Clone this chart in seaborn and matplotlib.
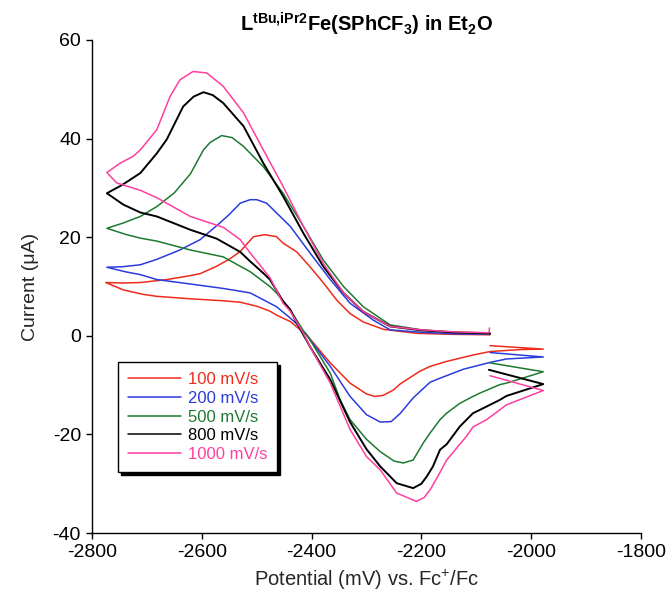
import numpy as np
import pandas as pd
import matplotlib
matplotlib.use("Agg")
import matplotlib.pyplot as plt
import seaborn as sns

# ---- data (scan order: start at -2075, sweep negative, back to -1975, back to -2075) ----
rates = ["100 mV/s", "200 mV/s", "500 mV/s", "800 mV/s", "1000 mV/s"]
colors = ["#ee2c1c", "#2a3cdc", "#1e7a30", "#000000", "#ff3fa0"]

e_100 = [-2075, -2148, -2209, -2269, -2306, -2330, -2354, -2379, -2403, -2427, -2452, -2464, -2485,
         -2506, -2530, -2549, -2573, -2603, -2621, -2664, -2712, -2745, -2775,
         -2743, -2707, -2682, -2621, -2561, -2530, -2500, -2476, -2464, -2439, -2427, -2409, -2391,
         -2366, -2330, -2300, -2285, -2270, -2251, -2239, -2221, -2203, -2184, -2154, -2106, -2075,
         -2020, -1978, -2075]
i_100 = [0.2, 0.3, 0.5, 1.3, 2.8, 4.5, 7.2, 10.8, 14.0, 17.0, 18.8, 20.1, 20.5,
         20.1, 17.1, 15.6, 14.1, 12.6, 12.2, 11.4, 10.8, 10.7, 10.8,
         9.3, 8.4, 8.0, 7.5, 7.1, 6.8, 6.0, 5.0, 4.2, 2.9, 1.8, 0.2, -2.2,
         -5.5, -9.6, -11.8, -12.3, -12.1, -11.0, -9.8, -8.5, -7.2, -6.2, -5.2, -3.9, -3.2,
         -2.8, -2.7, -2.0]

e_200 = [-2075, -2140, -2200, -2257, -2288, -2330, -2366, -2403, -2439, -2482, -2500, -2512, -2530,
         -2550, -2567, -2603, -2640, -2682, -2712, -2745, -2773,
         -2740, -2712, -2682, -2621, -2561, -2512, -2476, -2464, -2439, -2427, -2409, -2403, -2366,
         -2330, -2300, -2275, -2255, -2239, -2215, -2184, -2166, -2124, -2075, -2045, -1978, -2075]
i_200 = [0.3, 0.4, 0.7, 1.2, 3.2, 6.6, 11.4, 16.8, 22.2, 26.9, 27.6, 27.6, 26.9,
         24.6, 22.9, 19.5, 17.4, 15.5, 14.4, 14.0, 13.9,
         13.0, 12.4, 11.4, 10.5, 9.6, 8.7, 6.6, 5.9, 3.6, 2.4, 0.2, -0.8, -6.2,
         -12.3, -16.0, -17.5, -17.4, -15.8, -12.6, -9.4, -8.6, -6.8, -5.4, -4.7, -4.3, -3.4]

e_500 = [-2075, -2140, -2200, -2257, -2306, -2342, -2379, -2415, -2452, -2488, -2524, -2545, -2564,
         -2585, -2597, -2621, -2650, -2682, -2712, -2745, -2773,
         -2740, -2712, -2682, -2621, -2561, -2530, -2512, -2476, -2464, -2439, -2415, -2403, -2366,
         -2348, -2330, -2300, -2275, -2250, -2233, -2215, -2197, -2184, -2166, -2154, -2130, -2106,
         -2093, -2057, -2045, -1978, -2075]
i_500 = [0.4, 0.7, 1.2, 2.2, 5.9, 10.0, 15.4, 22.2, 28.9, 34.3, 38.4, 40.2, 40.6,
         39.2, 37.7, 32.8, 29.0, 26.2, 24.2, 22.8, 21.8,
         20.6, 19.8, 19.2, 17.4, 16.0, 14.1, 13.0, 10.0, 8.7, 5.3, 1.0, -0.8, -7.6,
         -13.0, -17.0, -21.0, -23.5, -25.4, -25.8, -25.2, -21.8, -19.7, -17.0, -15.7, -13.7, -12.3,
         -11.6, -9.9, -9.6, -7.3, -5.5]

e_800 = [-2075, -2140, -2200, -2257, -2306, -2342, -2379, -2415, -2452, -2488, -2524, -2561, -2580,
         -2597, -2615, -2634, -2664, -2682, -2712, -2745, -2773,
         -2743, -2712, -2682, -2621, -2573, -2530, -2512, -2488, -2476, -2452, -2439, -2427, -2415,
         -2403, -2366, -2330, -2300, -2275, -2245, -2215, -2200, -2190, -2179, -2166, -2154, -2130,
         -2106, -2093, -2057, -2045, -1978, -2077]
i_800 = [0.5, 0.7, 1.1, 1.9, 4.9, 8.7, 14.1, 20.8, 28.3, 35.0, 42.5, 47.2, 48.8,
         49.4, 48.5, 46.5, 39.8, 37.0, 33.0, 30.6, 28.9,
         26.6, 25.0, 24.2, 21.5, 19.7, 17.0, 15.1, 12.7, 11.4, 7.0, 5.3, 2.6, 0.2,
         -2.2, -8.9, -17.5, -23.0, -26.5, -29.9, -30.9, -30.0, -28.5, -26.5, -23.1, -22.0, -18.4,
         -15.7, -15.0, -13.0, -12.2, -9.8, -6.9]

e_1000 = [-2076, -2077, -2140, -2200, -2257, -2306, -2342, -2379, -2415, -2452, -2488, -2524, -2561,
          -2591, -2616, -2640, -2658, -2682, -2712, -2725, -2749, -2773,
          -2755, -2712, -2682, -2621, -2561, -2530, -2512, -2488, -2476, -2452, -2439, -2415, -2403,
          -2366, -2330, -2300, -2275, -2245, -2209, -2195, -2184, -2170, -2154, -2118, -2106, -2081,
          -2057, -2045, -1978, -2075]
i_1000 = [1.6, 0.6, 0.8, 1.2, 1.9, 4.9, 8.7, 14.7, 22.2, 30.3, 37.7, 45.2, 50.6,
          53.3, 53.6, 51.9, 48.5, 41.8, 37.7, 36.4, 35.0, 33.1,
          31.0, 29.5, 28.0, 24.2, 22.0, 19.5, 16.8, 13.5, 11.8, 6.6, 5.0, 0.5, -2.2,
          -9.6, -19.0, -24.5, -27.2, -31.9, -33.6, -32.8, -31.2, -28.5, -25.2, -20.4, -18.5, -17.0,
          -15.0, -14.0, -11.1, -8.1]

x_ticks = [-2800, -2600, -2400, -2200, -2000, -1800]
y_ticks = [-40, -20, 0, 20, 40, 60]

potentials = [e_100, e_200, e_500, e_800, e_1000]
currents = [i_100, i_200, i_500, i_800, i_1000]

frames = []
for r, e, i in zip(rates, potentials, currents):
    frames.append(pd.DataFrame({"E": e, "I": i, "rate": r, "idx": np.arange(len(e))}))
df = pd.concat(frames, ignore_index=True)

# ---- style ----
sns.set_style("ticks")
plt.rcParams["font.family"] = ["Liberation Sans", "DejaVu Sans"]
plt.rcParams["axes.unicode_minus"] = False
plt.rcParams["mathtext.fontset"] = "custom"
plt.rcParams["mathtext.rm"] = "Liberation Sans"
plt.rcParams["mathtext.it"] = "Liberation Sans"
plt.rcParams["mathtext.bf"] = "Liberation Sans:bold"

fig = plt.figure(figsize=(6.67, 6.05), dpi=100)
ax = fig.add_axes([0.138, 0.119, 0.823, 0.815])

for r, c in zip(rates, colors):
    sub = df[df["rate"] == r]
    sns.lineplot(data=sub, x="E", y="I", sort=False, estimator=None, ax=ax,
                 color=c, lw=1.4 if c == "#000000" else 1.1, label=r, legend=False)

ax.set_xlim(-2800, -1800)
ax.set_ylim(-40, 60)
ax.set_xticks(x_ticks)
ax.set_yticks(y_ticks)
ax.tick_params(axis="both", direction="out", length=4, width=1, labelsize=14,
               color="black", labelcolor="black", pad=4)
for s in ["top", "right"]:
    ax.spines[s].set_visible(False)
for s in ["left", "bottom"]:
    ax.spines[s].set_color("black")
    ax.spines[s].set_linewidth(1)

ax.set_xlabel(r"Potential (mV) vs. Fc$^{+}$/Fc", fontsize=14.5, labelpad=5)
ax.set_ylabel("Current (μA)", fontsize=14, labelpad=10)
ax.set_title(r"$\mathbf{L^{tBu{,}iPr2}Fe(SPhCF_{3})\ in\ Et_{2}O}$", fontsize=14.5,
             pad=6, color="black")

handles = ax.get_lines()
leg = ax.legend(handles=handles, labels=rates, loc="lower left",
                bbox_to_anchor=(0.047, 0.124), borderaxespad=0, fontsize=12,
                frameon=True, fancybox=False, edgecolor="black",
                shadow={"color": "black", "alpha": 1.0},
                handlelength=3.2, handletextpad=0.4, labelspacing=0.22,
                borderpad=0.6, labelcolor="linecolor")
leg.get_frame().set_linewidth(1.0)
for ln in leg.get_lines():
    ln.set_linewidth(1.1)

fig.savefig("out.png", dpi=100)
